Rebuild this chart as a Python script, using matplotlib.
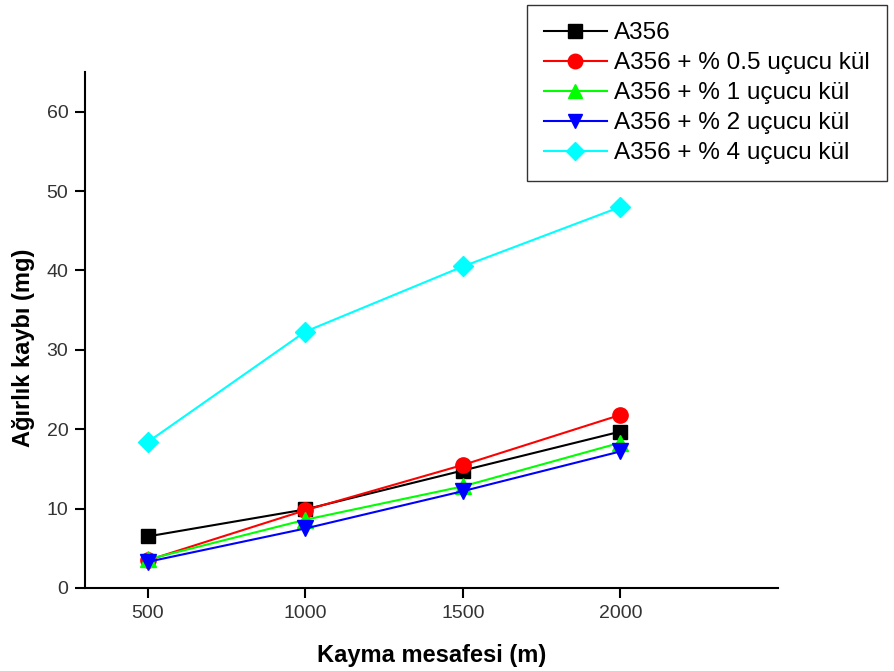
import matplotlib
matplotlib.use('Agg')
import matplotlib.pyplot as plt

plt.rcParams['font.family'] = ['Liberation Sans', 'DejaVu Sans']

# sliding distance (m)
distance = [500, 1000, 1500, 2000]

# weight loss (mg)
a356 = [6.5, 9.9, 14.8, 19.7]
fa05 = [3.5, 9.8, 15.5, 21.8]
fa1 = [3.6, 8.6, 12.8, 18.3]
fa2 = [3.3, 7.5, 12.2, 17.2]
fa4 = [18.4, 32.3, 40.5, 48.0]

labels = ['A356', 'A356 + % 0.5 uçucu kül', 'A356 + % 1 uçucu kül',
          'A356 + % 2 uçucu kül', 'A356 + % 4 uçucu kül']
series = [a356, fa05, fa1, fa2, fa4]
colors = ['#000000', '#ff0000', '#00ff00', '#0000ff', '#00ffff']
markers = ['s', 'o', '^', 'v', 'D']
msizes = [10, 11, 11, 11, 10]

fig = plt.figure(figsize=(8.94, 6.71), dpi=100)
ax = fig.add_axes([0.095, 0.1237, 0.775, 0.769])

for y, lab, c, m, ms in zip(series, labels, colors, markers, msizes):
    ax.plot(distance, y, color=c, marker=m, markersize=ms, linewidth=1.5,
            label=lab)

ax.set_xlim(300, 2500)
ax.set_ylim(0, 65)
ax.set_xticks(distance)
ax.set_yticks([0, 10, 20, 30, 40, 50, 60])
ax.spines['top'].set_visible(False)
ax.spines['right'].set_visible(False)
ax.spines['left'].set_linewidth(1.5)
ax.spines['bottom'].set_linewidth(1.5)
ax.tick_params(direction='out', length=7, width=1.5, labelsize=14,
               labelcolor='#333333', pad=5)

ax.set_xlabel('Kayma mesafesi (m)', fontsize=17, fontweight='bold')
ax.set_ylabel('Ağırlık kaybı (mg)', fontsize=17, fontweight='bold')
ax.xaxis.set_label_coords(0.5, -0.108)
ax.yaxis.set_label_coords(-0.072, 0.465)

leg = fig.legend(loc='upper right', bbox_to_anchor=(887 / 894, 1 - 5 / 671),
                 fontsize=17.5, frameon=True, fancybox=False,
                 edgecolor='black', handlelength=2.6, labelspacing=0.33,
                 borderpad=0.7, handletextpad=0.3, borderaxespad=0,
                 markerscale=0.95)
leg.get_frame().set_linewidth(1.0)

fig.savefig('out.png', dpi=100)
